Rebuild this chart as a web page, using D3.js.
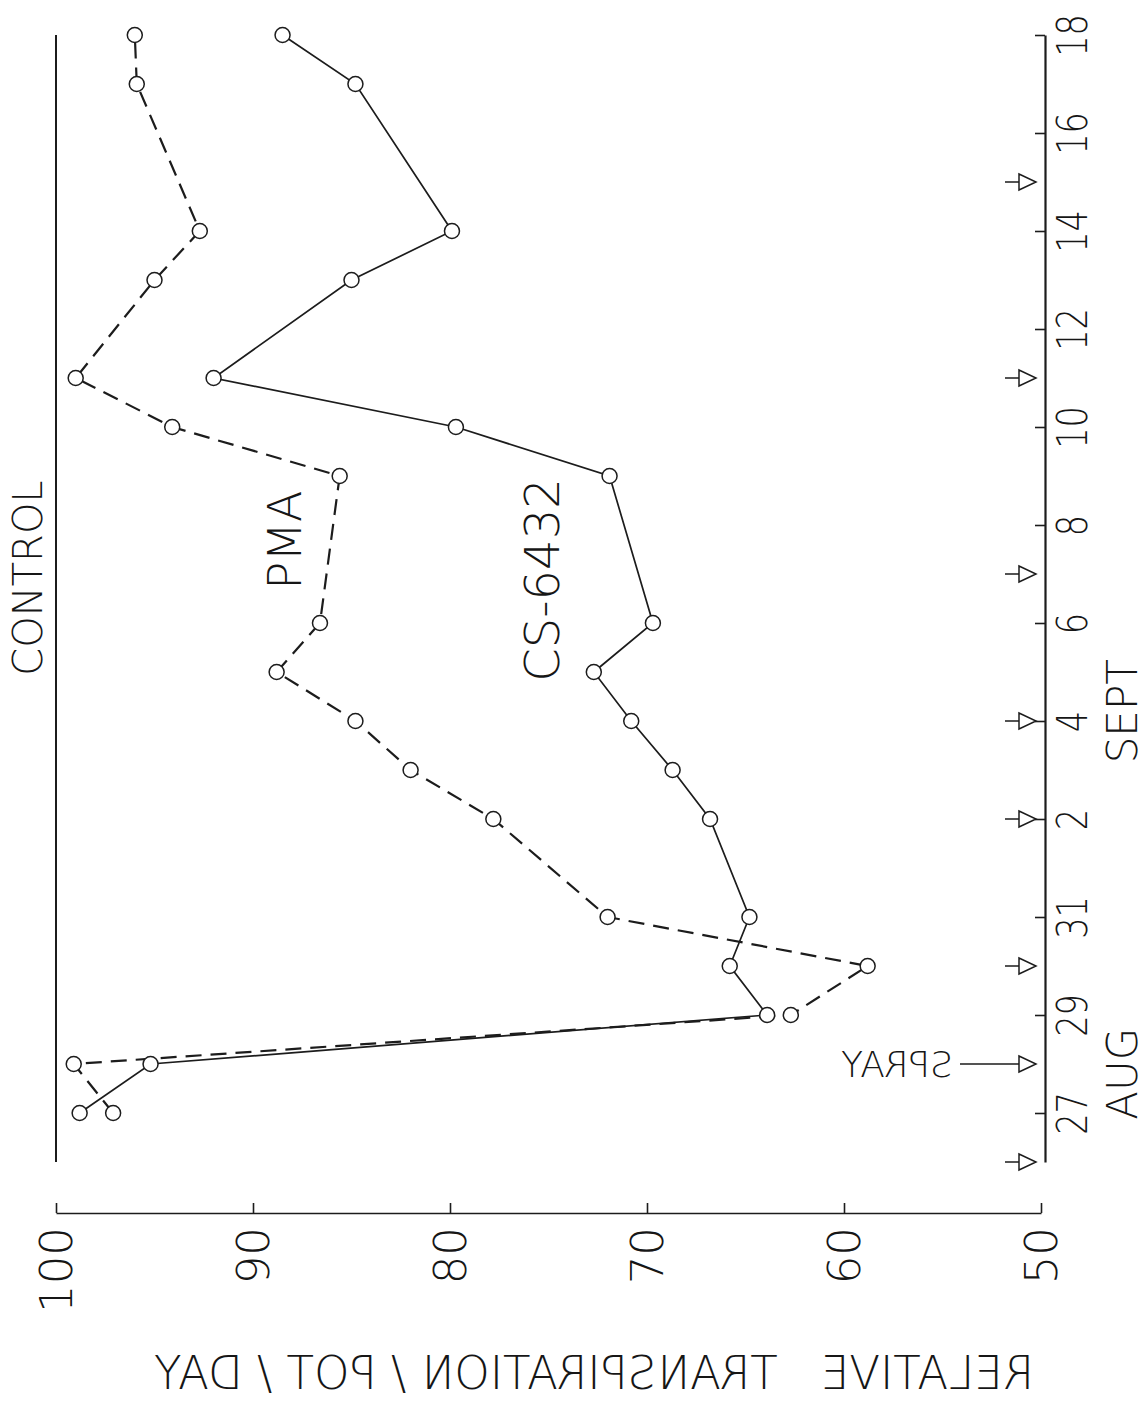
<!DOCTYPE html>
<html>
<head>
<meta charset="utf-8">
<script src="https://cdn.jsdelivr.net/npm/d3@7"></script>
<style>
  body { margin: 0; background: #fff; }
  svg text { font-family: "DejaVu Sans", "Liberation Sans", sans-serif; font-weight: 200; fill: #161616; }
</style>
</head>
<body>
<div id="chart"></div>
<script>
// days counted from Aug 27 (0) ... Sept 18 (22)
const dayIndex  = [0, 1, 2, 3, 4, 6, 7, 8, 9, 10, 13, 14, 15, 17, 18, 21, 22];
const pmaValues = [97.1, 99.1, 62.7, 58.8, 72.0, 77.8, 82.0, 84.8, 88.8, 86.6, 85.6, 94.1, 99.0, 95.0, 92.7, 95.9, 96.0];
const csValues  = [98.8, 95.2, 63.9, 65.8, 64.8, 66.8, 68.7, 70.8, 72.7, 69.7, 71.9, 79.7, 92.0, 85.0, 79.9, 84.8, 88.5];
const controlValue = 100;

const sprayDays = [-1, 1, 3, 6, 8, 11, 15, 19];
const dayTicks = [0, 2, 4, 6, 8, 10, 12, 14, 16, 18, 20, 22];
const dayTickLabels = ["27", "29", "31", "2", "4", "6", "8", "10", "12", "14", "16", "18"];
const monthLabels = [{ text: "AUG", day: 0.8 }, { text: "SEPT", day: 8.2 }];
const valueTicks = [100, 90, 80, 70, 60, 50];

const W = 1147, H = 1407;
const svg = d3.select("#chart").append("svg")
    .attr("width", W)
    .attr("height", H);

// the figure is turned on its side: values run right-to-left, days run bottom-to-top
const x = d3.scaleLinear().domain([50, 100]).range([1041, 56]);
const y = d3.scaleLinear().domain([-1, 22]).range([1162, 35]);
const ink = "#1c1c1c";

// value axis (bottom)
const valAxis = svg.append("g")
    .attr("transform", "translate(0,1213)")
    .call(d3.axisBottom(x).tickValues(valueTicks).tickSizeInner(-10).tickSizeOuter(0));
valAxis.select(".domain").attr("stroke", ink).attr("stroke-width", 1.6);
valAxis.selectAll(".tick line").attr("stroke", ink).attr("stroke-width", 1.6);
valAxis.selectAll(".tick text")
    .attr("x", null).attr("y", null).attr("dy", null)
    .attr("transform", "translate(0,14) rotate(-90)")
    .attr("text-anchor", "end")
    .attr("dominant-baseline", "central")
    .style("font-size", "45px");

// date axis (right)
const dayAxis = svg.append("g")
    .attr("transform", "translate(1045,0)")
    .call(d3.axisRight(y).tickValues(dayTicks)
        .tickFormat((d, i) => dayTickLabels[i])
        .tickSizeInner(-10).tickSizeOuter(0));
dayAxis.select(".domain").attr("stroke", ink).attr("stroke-width", 2.2);
dayAxis.selectAll(".tick line").attr("stroke", ink).attr("stroke-width", 1.6);
dayAxis.selectAll(".tick text")
    .attr("x", null).attr("y", null).attr("dy", null)
    .attr("transform", "translate(28,0) rotate(-90) scale(0.8,1)")
    .attr("text-anchor", "middle")
    .attr("dominant-baseline", "central")
    .style("font-size", "42px");

svg.selectAll(".month")
    .data(monthLabels)
    .enter().append("text")
    .attr("class", "month")
    .attr("transform", d => `translate(1122,${y(d.day)}) rotate(-90)`)
    .attr("text-anchor", "middle")
    .attr("dominant-baseline", "central")
    .style("font-size", "42px")
    .text(d => d.text);

// spray arrows pointing at the date axis
svg.selectAll(".spray")
    .data(sprayDays)
    .enter().append("path")
    .attr("class", "spray")
    .attr("d", d => {
        const yy = y(d);
        const x0 = d === 1 ? 960 : 1005;
        return `M${x0},${yy}H1019M1019,${yy - 8}L1036,${yy}L1019,${yy + 8}Z`;
    })
    .attr("fill", "none")
    .attr("stroke", ink)
    .attr("stroke-width", 1.5);

svg.append("text")
    .attr("transform", `translate(897,${y(1)}) scale(-1,1)`)
    .attr("text-anchor", "middle")
    .attr("dominant-baseline", "central")
    .style("font-size", "36px")
    .text("SPRAY");

// control line
svg.append("line")
    .attr("x1", x(controlValue)).attr("x2", x(controlValue))
    .attr("y1", y(22)).attr("y2", y(-1))
    .attr("stroke", ink)
    .attr("stroke-width", 2);

// series
const pmaData = dayIndex.map((d, i) => ({ day: d, v: pmaValues[i] }));
const csData = dayIndex.map((d, i) => ({ day: d, v: csValues[i] }));
const line = d3.line().x(d => x(d.v)).y(d => y(d.day));

svg.append("path")
    .datum(csData)
    .attr("d", line)
    .attr("fill", "none")
    .attr("stroke", ink)
    .attr("stroke-width", 1.7);

svg.append("path")
    .datum(pmaData)
    .attr("d", line)
    .attr("fill", "none")
    .attr("stroke", ink)
    .attr("stroke-width", 2.2)
    .attr("stroke-dasharray", "16 9");

[csData, pmaData].forEach(series => {
    svg.append("g").selectAll("circle")
        .data(series)
        .enter().append("circle")
        .attr("cx", d => x(d.v))
        .attr("cy", d => y(d.day))
        .attr("r", 7.5)
        .attr("fill", "#fff")
        .attr("stroke", ink)
        .attr("stroke-width", 1.5);
});

// labels
const labels = [
    { text: "CONTROL", x: 28, y: 578, size: 40 },
    { text: "PMA", x: 285, y: 540, size: 46 },
    { text: "CS-6432", x: 542, y: 580, size: 48 }
];
svg.selectAll(".lbl")
    .data(labels)
    .enter().append("text")
    .attr("class", "lbl")
    .attr("transform", d => `translate(${d.x},${d.y}) rotate(-90)`)
    .attr("text-anchor", "middle")
    .attr("dominant-baseline", "central")
    .style("font-size", d => d.size + "px")
    .text(d => d.text);

// value axis title, mirrored as in the scan
svg.append("text")
    .attr("transform", "translate(594,1373) scale(-1,1)")
    .attr("text-anchor", "middle")
    .attr("dominant-baseline", "central")
    .attr("textLength", 880)
    .attr("lengthAdjust", "spacingAndGlyphs")
    .style("font-size", "46px")
    .style("white-space", "pre")
    .text("RELATIVE   TRANSPIRATION / POT / DAY");
</script>
</body>
</html>
